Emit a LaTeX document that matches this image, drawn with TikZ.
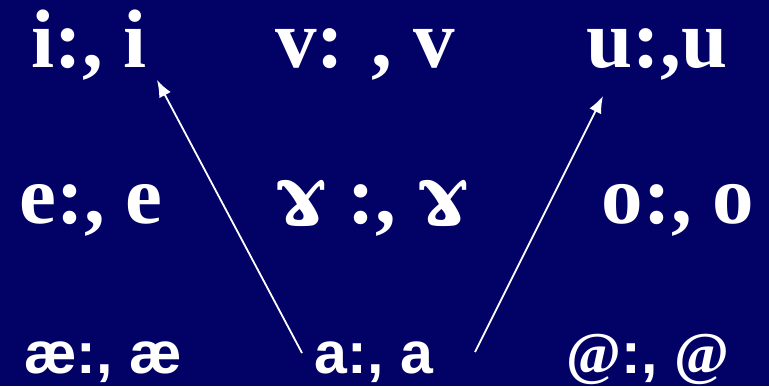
\documentclass[tikz,border=0pt]{standalone}
\usepackage{fontspec}
\setmainfont{Liberation Serif}
\setsansfont{Liberation Sans}
\newfontfamily\ipafont{DejaVu Serif}
\usetikzlibrary{arrows.meta}
\definecolor{slideblue}{RGB}{2,2,102}
\newcommand{\ramshorn}{{\ipafont ɤ}}

\begin{document}
\begin{tikzpicture}[
    x=1pt, y=-1pt,
    vowel/.style={text=white, anchor=base, inner sep=0pt, text height=56pt,
                  font=\fontsize{83}{88}\selectfont\bfseries},
    lowvowel/.style={vowel, font=\fontsize{59}{64}\selectfont\sffamily\bfseries},
    >={Latex[length=17pt, width=13pt]}]
  \fill[slideblue] (0,0) rectangle (769,386);
  \useasboundingbox (0,0) rectangle (769,386);
  % top row
  \node[vowel] (ii) at (89,67) {i:, i};
  \node[vowel] (vv) at (365,67) {v: , v};
  \node[vowel] (uu) at (657,67) {u:,u};
  % middle row
  \node[vowel] (ee) at (91,223) {e:, e};
  \node[vowel] (gg) at (372,223) {\ramshorn\ :, \ramshorn};
  \node[vowel] (oo) at (678,223) {o:, o};
  % bottom row
  \node[lowvowel] (ae) at (103,373) {æ:, æ};
  \node[lowvowel] (aa) at (374,373) {a:, a};
  \node[lowvowel] (at) at (648,373) {{\rmfamily @}:, {\rmfamily @}};
  \coordinate (aaleft) at (302,353);
  \coordinate (aaright) at (475,352);
  \coordinate (iitip) at (157,80);
  \coordinate (uutip) at (603,96);
  \draw[->, white, line width=1.8pt] (aaleft) -- (iitip);
  \draw[->, white, line width=1.8pt] (aaright) -- (uutip);
\end{tikzpicture}
\end{document}
